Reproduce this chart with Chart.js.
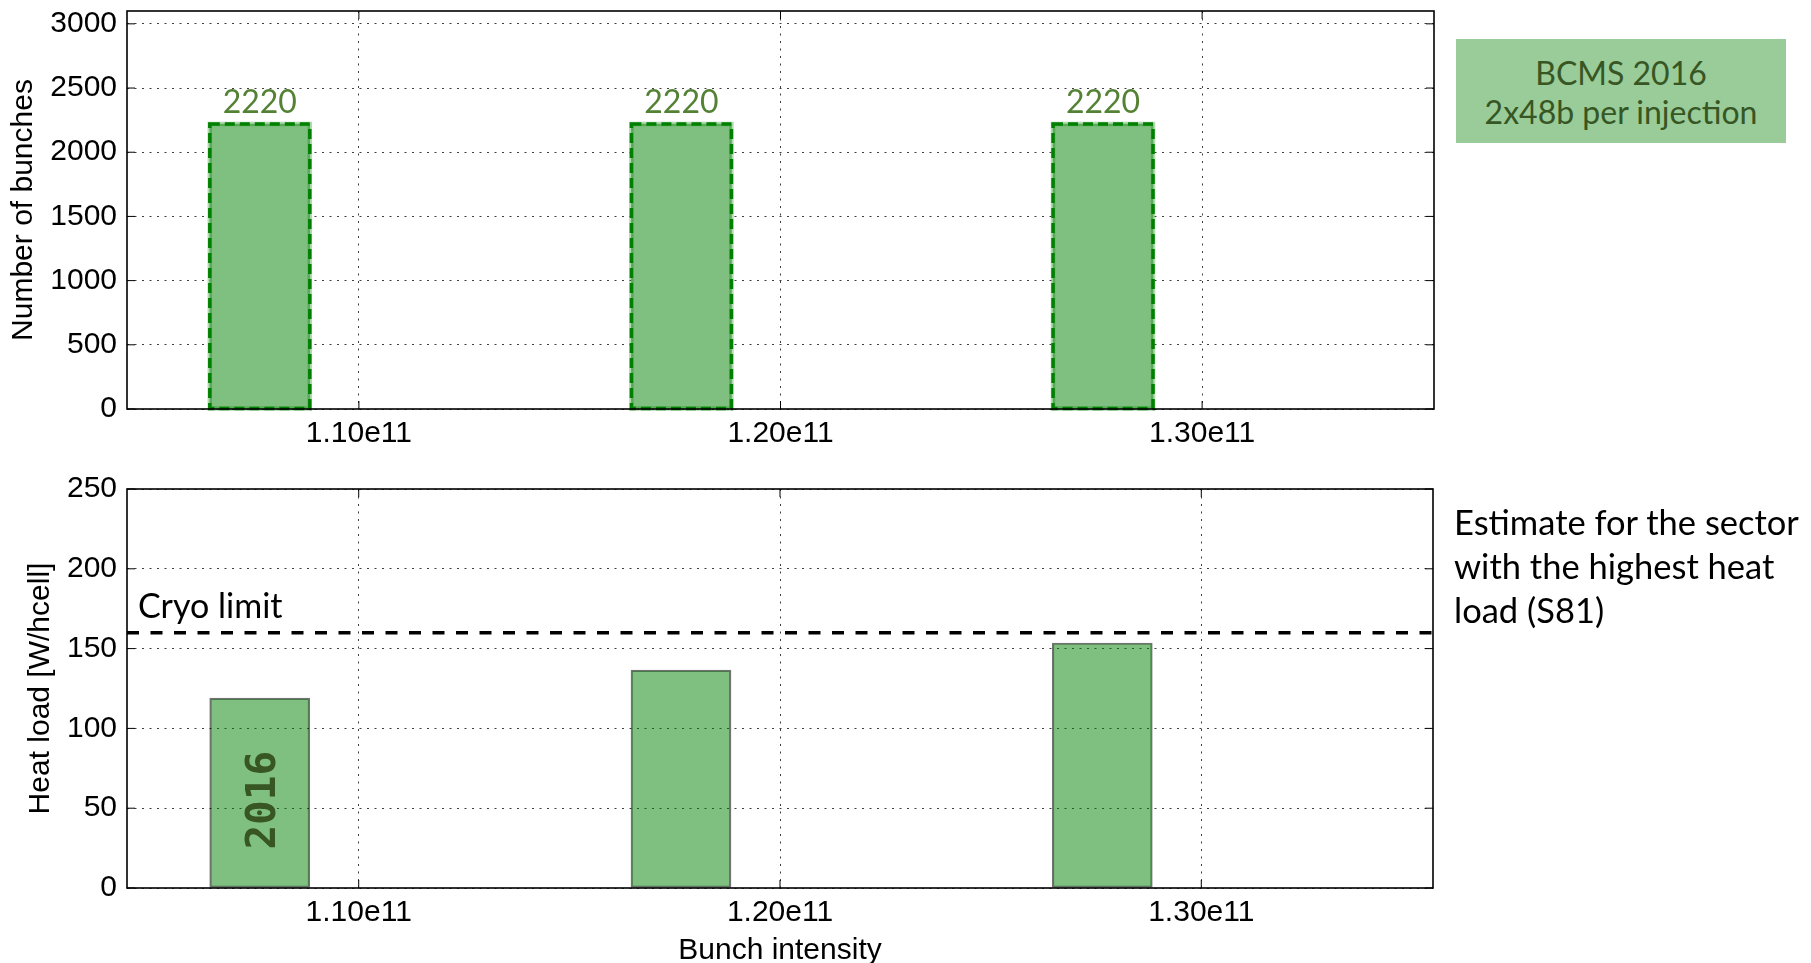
<!DOCTYPE html>
<html>
<head>
<meta charset="utf-8">
<title>BCMS 2016 - bunches and heat load</title>
<script src="https://cdn.jsdelivr.net/npm/chart.js@4.4.0/dist/chart.umd.min.js"></script>
<style>
    html, body { margin: 0; padding: 0; background: #ffffff; }
    body { width: 1811px; height: 963px; position: relative; overflow: hidden; }
    #bunchesChart { position: absolute; left: 0; top: 0; }
    #heatLoadChart { position: absolute; left: 0; top: 470px; }
    .bcms-box {
        position: absolute; left: 1456px; top: 39px; width: 330px; height: 104px;
        box-sizing: border-box; padding-top: 14px;
        background: #99cc99; color: #375623;
        font-family: Lato, sans-serif; font-size: 32px; line-height: 39px; text-align: center;
    }
    .sector-note {
        position: absolute; left: 1454px; top: 500px;
        font-family: Lato, sans-serif; font-size: 34.5px; line-height: 44px; color: #000000;
    }
</style>
</head>
<body>
<canvas id="bunchesChart" width="1811" height="470"></canvas>
<canvas id="heatLoadChart" width="1811" height="493"></canvas>
<div class="bcms-box">BCMS 2016<br>2x48b per injection</div>
<div class="sector-note">Estimate for the sector<br>with the highest heat<br>load (S81)</div>

<script>
///////////////////////////////////////
// Data:
// bunch intensity at the centre of each bar (p/bunch)
const bunchIntensity = [1.0765e11, 1.1765e11, 1.2765e11]
// number of bunches (top plot)
const numberOfBunches = [2220, 2220, 2220]
// heat load in the worst sector, W/hcell (bottom plot)
const heatLoad = [119, 136.5, 153.5]
const cryoLimit = 160
const yearLabel = '2016'

// axes
const intensityMin = 1.045e11
const intensityMax = 1.355e11
const intensityTicks = [1.10e11, 1.20e11, 1.30e11]
const bunchesMax = 3100
const bunchesTicks = [0, 500, 1000, 1500, 2000, 2500, 3000]
const heatLoadMax = 250
const heatLoadTicks = [0, 50, 100, 150, 200, 250]
///////////////////////////////////////

const axisFont = { family: '"Liberation Sans", Arial, sans-serif', size: 30, lineHeight: 1 }
const labelFont = 'Lato, sans-serif'

Chart.defaults.animation = false
Chart.defaults.color = '#000000'

// Frame round the plot plus inward tick marks on all four sides (matplotlib classic look)
const frameAndTicks = {
    id: 'frameAndTicks',
    afterDatasetsDraw: function(chart) {
        const ctx = chart.ctx
        const area = chart.chartArea
        const xScale = chart.scales.x
        const yScale = chart.scales.y
        const tickLen = 8
        ctx.save()
        ctx.strokeStyle = '#000000'
        ctx.lineWidth = 1
        ctx.beginPath()
        for (let i = 0; i < xScale.ticks.length; i++) {
            const px = xScale.getPixelForValue(xScale.ticks[i].value)
            ctx.moveTo(px, area.bottom); ctx.lineTo(px, area.bottom - tickLen)
            ctx.moveTo(px, area.top); ctx.lineTo(px, area.top + tickLen)
        }
        for (let i = 0; i < yScale.ticks.length; i++) {
            const py = yScale.getPixelForValue(yScale.ticks[i].value)
            ctx.moveTo(area.left, py); ctx.lineTo(area.left + tickLen, py)
            ctx.moveTo(area.right, py); ctx.lineTo(area.right - tickLen, py)
        }
        ctx.stroke()
        ctx.lineWidth = 1.6
        ctx.strokeRect(area.left, area.top, area.right - area.left, area.bottom - area.top)
        ctx.restore()
    }
}

// Dashed green outline and value label on the top bars
const dashedBarsAndValues = {
    id: 'dashedBarsAndValues',
    afterDatasetsDraw: function(chart) {
        const ctx = chart.ctx
        const meta = chart.getDatasetMeta(0)
        ctx.save()
        for (let i = 0; i < meta.data.length; i++) {
            const bar = meta.data[i].getProps(['x', 'y', 'base', 'width'], true)
            const left = bar.x - bar.width / 2
            // soft halo first, then the dashes
            ctx.setLineDash([])
            ctx.lineWidth = 4.5
            ctx.strokeStyle = 'rgba(0,128,0,0.3)'
            ctx.strokeRect(left, bar.y, bar.width, bar.base - bar.y)
            ctx.setLineDash([10, 5])
            ctx.lineWidth = 3.5
            ctx.strokeStyle = '#008000'
            ctx.strokeRect(left, bar.y, bar.width, bar.base - bar.y)
            ctx.setLineDash([])
            ctx.fillStyle = '#548235'
            ctx.font = '32px ' + labelFont
            ctx.textAlign = 'center'
            ctx.textBaseline = 'alphabetic'
            ctx.fillText(String(numberOfBunches[i]), bar.x, bar.y - 11)
        }
        ctx.restore()
    }
}

// "Cryo limit" text and the rotated year inside the first bar
const heatLoadLabels = {
    id: 'heatLoadLabels',
    afterDatasetsDraw: function(chart) {
        const ctx = chart.ctx
        const area = chart.chartArea
        const yScale = chart.scales.y
        const firstBar = chart.getDatasetMeta(0).data[0]
        ctx.save()
        ctx.fillStyle = '#000000'
        ctx.font = '34px ' + labelFont
        ctx.textAlign = 'left'
        ctx.textBaseline = 'alphabetic'
        ctx.fillText('Cryo limit', area.left + 11, yScale.getPixelForValue(cryoLimit) - 15)

        ctx.translate(firstBar.x, yScale.getPixelForValue(55))
        ctx.rotate(-Math.PI / 2)
        ctx.fillStyle = '#375623'
        ctx.font = 'bold 41px "DejaVu Sans Mono", monospace'
        ctx.textAlign = 'center'
        ctx.textBaseline = 'middle'
        ctx.fillText(yearLabel, 0, 5)
        ctx.restore()
    }
}

function xAxisOptions(axisHeight, titleText) {
    return {
        type: 'linear',
        min: intensityMin,
        max: intensityMax,
        offset: false,
        afterBuildTicks: function(scale) {
            scale.ticks = intensityTicks.map(v => ({ value: v }))
        },
        afterFit: function(scale) {
            scale.height = axisHeight
            scale.paddingLeft = 0
            scale.paddingRight = 0
        },
        grid: { color: 'rgba(0,0,0,0.75)', lineWidth: 1, drawTicks: false, offset: false },
        border: { display: false, dash: [2, 5.5] },
        ticks: {
            font: axisFont,
            color: '#000000',
            padding: 10,
            maxRotation: 0,
            callback: v => (v / 1e11).toFixed(2) + 'e11'
        },
        title: {
            display: titleText !== '',
            text: titleText,
            font: axisFont,
            color: '#000000',
            padding: { top: 0, bottom: -3 }
        }
    }
}

function yAxisOptions(maxValue, tickValues, titleText, titlePad) {
    return {
        type: 'linear',
        min: 0,
        max: maxValue,
        afterBuildTicks: function(scale) {
            scale.ticks = tickValues.map(v => ({ value: v }))
        },
        afterFit: function(scale) {
            scale.width = 127
            scale.paddingTop = 0
            scale.paddingBottom = 0
        },
        grid: { color: 'rgba(0,0,0,0.75)', lineWidth: 1, drawTicks: false },
        border: { display: false, dash: [2, 5.5] },
        ticks: { font: axisFont, color: '#000000', padding: 10, callback: v => String(v) },
        title: {
            display: true,
            text: titleText,
            font: axisFont,
            color: '#000000',
            padding: { top: titlePad, bottom: 0 }
        }
    }
}

///////////////////////////////////////
// Top: number of bunches
const bunchesChart = new Chart(document.getElementById('bunchesChart'), {
    type: 'bar',
    data: {
        datasets: [{
            label: 'Number of bunches',
            data: bunchIntensity.map((x, i) => ({ x: x, y: numberOfBunches[i] })),
            backgroundColor: '#7fbf7f',
            borderWidth: 0,
            barThickness: 100
        }]
    },
    options: {
        responsive: false,
        layout: { padding: { top: 11, right: 377, bottom: 0, left: 0 } },
        plugins: { legend: { display: false }, tooltip: { enabled: false } },
        scales: {
            x: xAxisOptions(61, ''),
            y: yAxisOptions(bunchesMax, bunchesTicks, 'Number of bunches', 9)
        }
    },
    plugins: [dashedBarsAndValues, frameAndTicks]
})

///////////////////////////////////////
// Bottom: heat load with cryo limit
const heatLoadChart = new Chart(document.getElementById('heatLoadChart'), {
    type: 'bar',
    data: {
        datasets: [{
            type: 'bar',
            label: 'Heat load',
            data: bunchIntensity.map((x, i) => ({ x: x, y: heatLoad[i] })),
            backgroundColor: 'rgba(0,128,0,0.5)',
            borderColor: 'rgba(0,0,0,0.55)',
            borderWidth: 1.5,
            borderSkipped: false,
            barThickness: 100,
            order: 2
        }, {
            type: 'line',
            label: 'Cryo limit',
            data: [{ x: intensityMin, y: cryoLimit }, { x: intensityMax, y: cryoLimit }],
            borderColor: '#000000',
            borderWidth: 3.5,
            borderDash: [12, 11.5],
            pointRadius: 0,
            fill: false,
            order: 1
        }]
    },
    options: {
        responsive: false,
        layout: { padding: { top: 19, right: 378, bottom: 0, left: 0 } },
        plugins: { legend: { display: false }, tooltip: { enabled: false } },
        scales: {
            x: xAxisOptions(75, 'Bunch intensity'),
            y: yAxisOptions(heatLoadMax, heatLoadTicks, 'Heat load [W/hcell]', 26)
        }
    },
    plugins: [heatLoadLabels, frameAndTicks]
})
</script>
</body>
</html>
